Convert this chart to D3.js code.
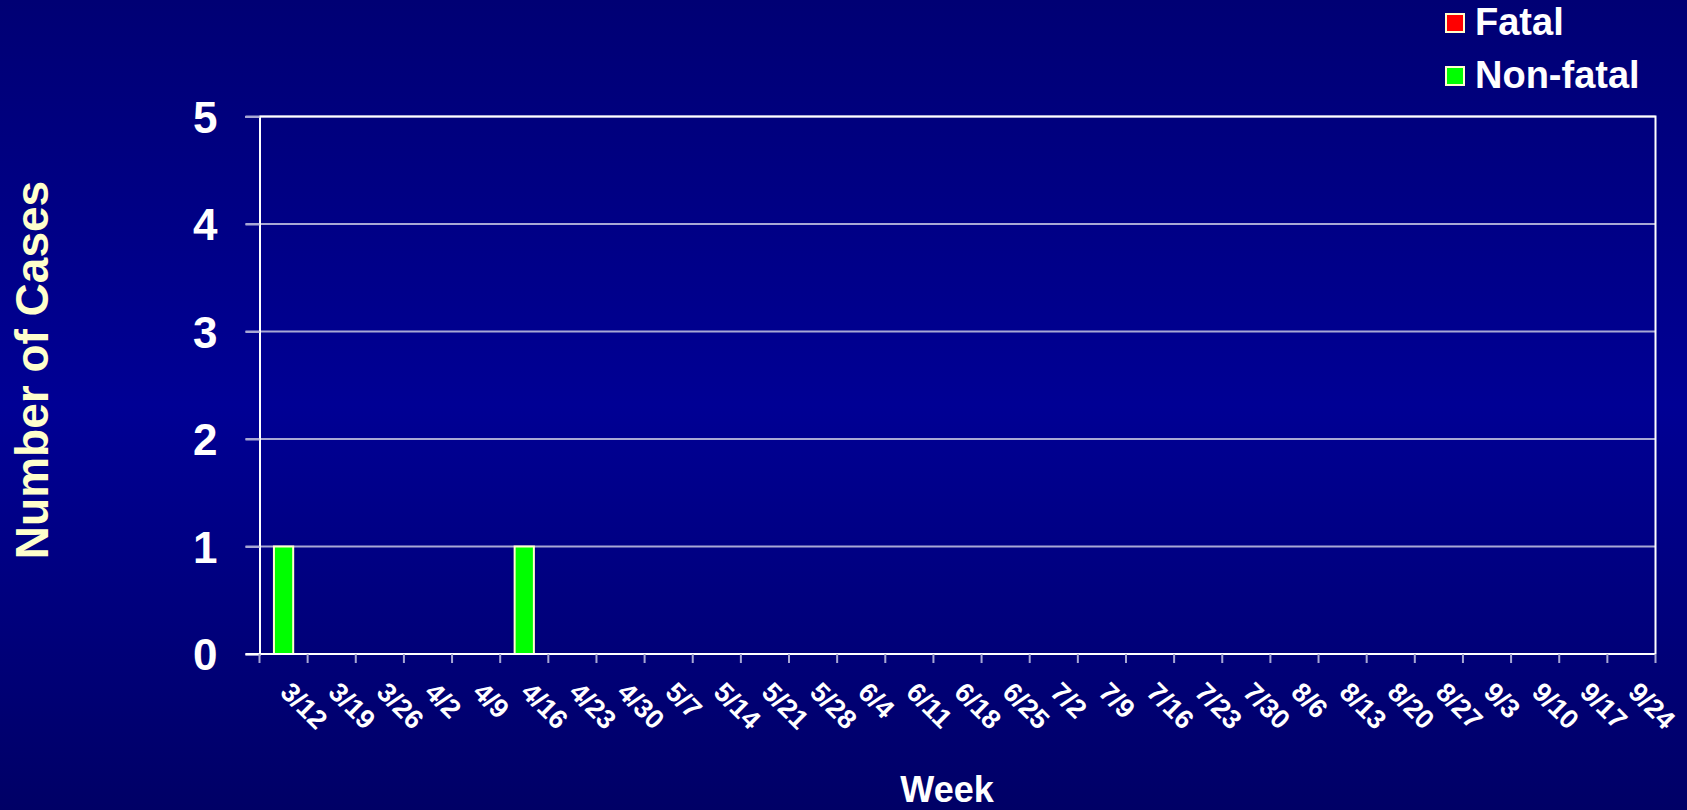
<!DOCTYPE html>
<html>
<head>
<meta charset="utf-8">
<script src="https://cdn.jsdelivr.net/npm/d3@7/dist/d3.min.js"></script>
<style>
  html, body { margin: 0; padding: 0; background: #000080; }
  svg { display: block; }
  text { font-family: Arial, "Liberation Sans", sans-serif; font-weight: bold; }
</style>
</head>
<body>
<script>
// Weekly case counts
const weeks = ["3/12","3/19","3/26","4/2","4/9","4/16","4/23","4/30","5/7","5/14","5/21","5/28",
  "6/4","6/11","6/18","6/25","7/2","7/9","7/16","7/23","7/30","8/6","8/13","8/20","8/27",
  "9/3","9/10","9/17","9/24"];
const nonFatal = [1,0,0,0,0,1,0,0,0,0,0,0,0,0,0,0,0,0,0,0,0,0,0,0,0,0,0,0,0];
const fatal    = [0,0,0,0,0,0,0,0,0,0,0,0,0,0,0,0,0,0,0,0,0,0,0,0,0,0,0,0,0];
const yTicks = [0,1,2,3,4,5];
const seriesNames = ["Fatal", "Non-fatal"];
const seriesColors = {"Fatal": "#ff0000", "Non-fatal": "#00ff00"};

const W = 1687, H = 810;
const margin = {left: 259.5, right: W - 1655.5, top: 116.5, bottom: H - 654};

const svg = d3.select("body").append("svg").attr("width", W).attr("height", H);

// Background gradient: darker at top and bottom, brighter in the middle
const defs = svg.append("defs");
const grad = defs.append("linearGradient").attr("id", "bg").attr("x1", 0).attr("y1", 0).attr("x2", 0).attr("y2", 1);
grad.append("stop").attr("offset", "0%").attr("stop-color", "#000074");
grad.append("stop").attr("offset", "50%").attr("stop-color", "#000094");
grad.append("stop").attr("offset", "100%").attr("stop-color", "#000066");
svg.append("rect").attr("width", W).attr("height", H).attr("fill", "url(#bg)");

const x = d3.scaleBand().domain(weeks).range([margin.left, W - margin.right]).paddingInner(0).paddingOuter(0);
const y = d3.scaleLinear().domain([0, 5]).range([H - margin.bottom, margin.top]);

// Gridlines
svg.append("g")
  .selectAll("line").data(yTicks.filter(d => d > 0)).join("line")
  .attr("x1", margin.left - 14).attr("x2", W - margin.right)
  .attr("y1", d => y(d)).attr("y2", d => y(d))
  .attr("stroke", "#a8a8d4").attr("stroke-width", 2);

// Stacked bars
const rows = weeks.map((w, i) => ({week: w, "Non-fatal": nonFatal[i], "Fatal": fatal[i]}));
const stack = d3.stack().keys(["Non-fatal", "Fatal"])(rows);
const bw = x.bandwidth() * 0.4;
svg.append("g").selectAll("g").data(stack).join("g")
  .attr("fill", d => seriesColors[d.key])
  .selectAll("rect").data(d => d.filter(p => p[1] - p[0] > 0)).join("rect")
  .attr("x", d => x(d.data.week) + (x.bandwidth() - bw) / 2)
  .attr("width", bw)
  .attr("y", d => y(d[1]))
  .attr("height", d => y(d[0]) - y(d[1]))
  .attr("stroke", "#ffffcc").attr("stroke-width", 2);

// Plot frame (top and right)
svg.append("path")
  .attr("d", `M${margin.left},${margin.top}H${W - margin.right}V${H - margin.bottom}`)
  .attr("fill", "none").attr("stroke", "#ffffff").attr("stroke-width", 2);

// Y axis
const yAxis = svg.append("g").attr("transform", `translate(${margin.left},0)`)
  .call(d3.axisLeft(y).tickValues(yTicks).tickSize(14).tickFormat(d3.format("d")));
yAxis.select(".domain").attr("stroke", "#ffffff").attr("stroke-width", 2);
yAxis.selectAll(".tick line").attr("stroke", "#a8a8d4").attr("stroke-width", 2);
yAxis.selectAll(".tick text")
  .attr("fill", "#ffffff").attr("font-size", 44).attr("x", -42).attr("dy", "0.36em");

// X axis: ticks on category boundaries
const xg = svg.append("g").attr("transform", `translate(0,${H - margin.bottom})`);
xg.append("line").attr("x1", margin.left - 14).attr("x2", W - margin.right)
  .attr("stroke", "#ffffff").attr("stroke-width", 2);
const bounds = weeks.map(w => x(w)).concat([x(weeks[weeks.length - 1]) + x.bandwidth()]);
xg.selectAll("line.tk").data(bounds).join("line").attr("class", "tk")
  .attr("x1", d => d).attr("x2", d => d).attr("y1", 0).attr("y2", 9)
  .attr("stroke", "#a8a8d4").attr("stroke-width", 2);
xg.selectAll("text").data(weeks).join("text")
  .attr("transform", d => `translate(${x(d) + x.bandwidth() / 2 + 2},${33}) rotate(45)`)
  .attr("fill", "#ffffff").attr("font-size", 27)
  .attr("dy", "0.35em")
  .text(d => d);

// Axis titles
svg.append("text").attr("transform", `translate(48,370) rotate(-90)`)
  .attr("text-anchor", "middle").attr("fill", "#ffffcc").attr("font-size", 46)
  .text("Number of Cases");
svg.append("text").attr("x", 947).attr("y", 802)
  .attr("text-anchor", "middle").attr("fill", "#ffffff").attr("font-size", 36)
  .text("Week");

// Legend
const lg = svg.append("g");
seriesNames.forEach((name, i) => {
  const yy = 35 + i * 53;
  lg.append("rect").attr("x", 1446).attr("y", yy - 21).attr("width", 18).attr("height", 18)
    .attr("fill", seriesColors[name]).attr("stroke", "#ffffcc").attr("stroke-width", 2);
  lg.append("text").attr("x", 1475).attr("y", yy).attr("fill", "#ffffff").attr("font-size", 38).text(name);
});
</script>
</body>
</html>
